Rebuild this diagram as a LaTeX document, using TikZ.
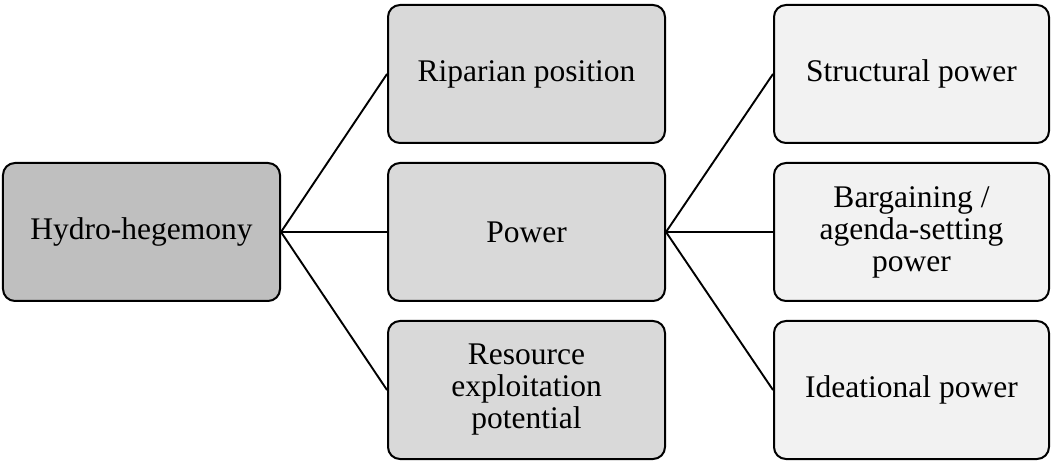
\documentclass[tikz,border=0pt]{standalone}
\usepackage{fontspec}
\setmainfont{Liberation Serif}
\begin{document}
\begin{tikzpicture}[x=1bp,y=-1bp,
  box/.style={draw=black,line width=2bp,rounded corners=12bp,
    minimum height=138bp,inner sep=2bp,align=center,
    font=\fontsize{31.5bp}{32bp}\selectfont},
  rootbox/.style={box,fill=black!25,minimum width=277bp},
  midbox/.style={box,fill=black!15,minimum width=277bp},
  leafbox/.style={box,fill=black!5,minimum width=275bp},
  link/.style={draw=black,line width=1.9bp}]
\useasboundingbox (0,0) rectangle (1051,462);
\node[rootbox] (root) at (141.5,232) {Hydro-hegemony};
\node[midbox] (rip) at (526.5,74) {Riparian position};
\node[midbox] (pow) at (526.5,232) {Power};
\node[midbox] (res) at (526.5,390) {Resource\\exploitation\\potential};
\node[leafbox] (str) at (911.5,74) {Structural power};
\node[leafbox] (bar) at (911.5,232) {Bargaining /\\agenda-setting\\power};
\node[leafbox] (ide) at (911.5,390) {Ideational power};
\draw[link] (root.east) -- (rip.west);
\draw[link] (root.east) -- (pow.west);
\draw[link] (root.east) -- (res.west);
\draw[link] (pow.east) -- (str.west);
\draw[link] (pow.east) -- (bar.west);
\draw[link] (pow.east) -- (ide.west);
\end{tikzpicture}
\end{document}
